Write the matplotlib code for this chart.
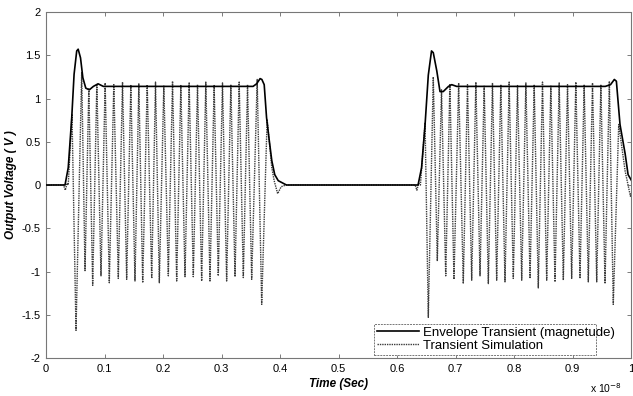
import matplotlib
matplotlib.use("Agg")
import matplotlib.pyplot as plt

plt.rcParams['font.family'] = ['Liberation Sans', 'DejaVu Sans']

# Time axis in units of 1e-8 s
env_t = [0.0, 0.0325, 0.038, 0.044, 0.048, 0.0525, 0.055, 0.059, 0.063, 0.068,
         0.074, 0.081, 0.089, 0.098, 0.354, 0.360, 0.366, 0.369, 0.373, 0.377,
         0.381, 0.386, 0.391, 0.397, 0.411, 0.636, 0.642, 0.648, 0.6535, 0.659,
         0.662, 0.668, 0.6735, 0.679, 0.688, 0.6935, 0.702, 0.956, 0.965, 0.9715,
         0.975, 0.9812, 0.990, 0.995, 1.001]
env_v = [0.0, 0.0, 0.20, 0.78, 1.28, 1.55, 1.57, 1.47, 1.24, 1.12,
         1.10, 1.14, 1.17, 1.14, 1.14, 1.17, 1.23, 1.22, 1.16, 0.78,
         0.55, 0.28, 0.12, 0.05, 0.0, 0.0, 0.20, 0.70, 1.27, 1.55,
         1.53, 1.32, 1.08, 1.08, 1.14, 1.16, 1.14, 1.14, 1.16, 1.22,
         1.20, 0.70, 0.36, 0.12, 0.05]

# Turning points of the transient simulation waveform
sim_t = [0.0, 0.030, 0.033, 0.036, 0.038, 0.0444, 0.0513, 0.0610, 0.0667, 0.0732,
         0.0798, 0.0869, 0.0940, 0.1011, 0.1082, 0.1159, 0.1236, 0.1308, 0.1379, 0.1450,
         0.1521, 0.1587, 0.1653, 0.1730, 0.1807, 0.1872, 0.1937, 0.2014, 0.2091, 0.2163,
         0.2234, 0.2305, 0.2376, 0.2447, 0.2518, 0.2590, 0.2661, 0.2732, 0.2803, 0.2874,
         0.2945, 0.3017, 0.3088, 0.3160, 0.3231, 0.3302, 0.3373, 0.3445, 0.3516, 0.3610,
         0.3687, 0.3780, 0.3860, 0.3900, 0.3960, 0.4020, 0.4100,
         0.631, 0.634, 0.637, 0.640, 0.648, 0.6535, 0.6620, 0.6689, 0.6761, 0.6833,
         0.6904, 0.6974, 0.7054, 0.7133, 0.7205, 0.7277, 0.7348, 0.7419, 0.7490, 0.7561,
         0.7632, 0.7704, 0.7775, 0.7846, 0.7917, 0.7988, 0.8060, 0.8132, 0.8203, 0.8274,
         0.8345, 0.8415, 0.8487, 0.8559, 0.8630, 0.8701, 0.8772, 0.8843, 0.8915, 0.8986,
         0.9057, 0.9128, 0.9199, 0.9270, 0.9342, 0.9414, 0.9485, 0.9556, 0.9630, 0.9697,
         0.9790, 0.9900, 0.9990, 1.0050]
sim_v = [0.0, 0.0, -0.06, 0.02, 0.0, 0.82, -1.68, 1.30, -0.99, 1.12,
         -1.16, 1.17, -1.05, 1.18, -1.13, 1.16, -1.08, 1.19, -1.09, 1.15,
         -1.11, 1.17, -1.13, 1.16, -1.08, 1.19, -1.13, 1.15, -1.05, 1.20,
         -1.11, 1.15, -1.06, 1.18, -1.06, 1.16, -1.11, 1.19, -1.11, 1.15,
         -1.05, 1.18, -1.11, 1.16, -1.06, 1.19, -1.07, 1.16, -1.09, 1.22,
         -1.38, 0.76, 0.20, 0.05, -0.10, -0.02, 0.0,
         0.0, -0.06, 0.02, 0.0, 0.72, -1.53, 1.25, -0.88, 1.10, -1.05,
         1.16, -1.09, 1.18, -1.14, 1.16, -1.10, 1.19, -1.05, 1.15, -1.14,
         1.18, -1.10, 1.16, -1.12, 1.19, -1.08, 1.15, -1.10, 1.18, -1.08,
         1.16, -1.19, 1.19, -1.10, 1.15, -1.12, 1.18, -1.10, 1.16, -1.08,
         1.19, -1.08, 1.16, -1.12, 1.18, -1.12, 1.16, -1.14, 1.20, -1.38,
         0.70, 0.16, -0.13, 0.0]

x_ticks = [0, 0.1, 0.2, 0.3, 0.4, 0.5, 0.6, 0.7, 0.8, 0.9, 1]
x_tick_labels = ["0", "0.1", "0.2", "0.3", "0.4", "0.5", "0.6", "0.7", "0.8", "0.9", "1"]
y_ticks = [-2, -1.5, -1, -0.5, 0, 0.5, 1, 1.5, 2]
y_tick_labels = ["-2", "-1.5", "-1", "-0.5", "0", "0.5", "1", "1.5", "2"]

fig = plt.figure(figsize=(6.33, 3.96), dpi=100)
ax = fig.add_axes([46 / 633, 1 - 358 / 396, 585 / 633, 346 / 396])

ax.plot(env_t, env_v, color="black", linewidth=1.2, label="Envelope Transient (magnetude)", zorder=3)
ax.plot(sim_t, sim_v, color="#3a3a3a", linewidth=1.0, linestyle=(0, (1, 0.7)),
        label="Transient Simulation", zorder=2)

ax.set_xlim(0, 1)
ax.set_ylim(-2, 2)
ax.set_xticks(x_ticks)
ax.set_xticklabels(x_tick_labels)
ax.set_yticks(y_ticks)
ax.set_yticklabels(y_tick_labels)
ax.tick_params(direction="in", length=3, width=0.6, color="#666666",
               top=True, right=True, labelsize=8, pad=4)
for sp in ax.spines.values():
    sp.set_color("#777777")
    sp.set_linewidth(0.8)
    sp.set_linestyle((0, (2, 1)))

ax.set_xlabel("Time (Sec)", fontsize=8.5, fontweight="bold", fontstyle="italic", labelpad=3)
ax.set_ylabel("Output Voltage ( V )", fontsize=8.5, fontweight="bold", fontstyle="italic", labelpad=3)

fig.text(590 / 633, 1 - 388 / 396, r"x 10$^{-8}$", fontsize=7.5, ha="left", va="center")

leg = ax.legend(loc="lower left", bbox_to_anchor=(0.561, 0.010, 0.38, 0.11),
                mode="expand", fontsize=9.5, handlelength=3.2, handletextpad=0.3,
                borderpad=0.2, labelspacing=0.05, fancybox=False, framealpha=1,
                borderaxespad=0)
leg.get_frame().set_edgecolor("#777777")
leg.get_frame().set_linewidth(0.7)
leg.get_frame().set_linestyle((0, (2, 1)))

fig.savefig("out.png", dpi=100)
